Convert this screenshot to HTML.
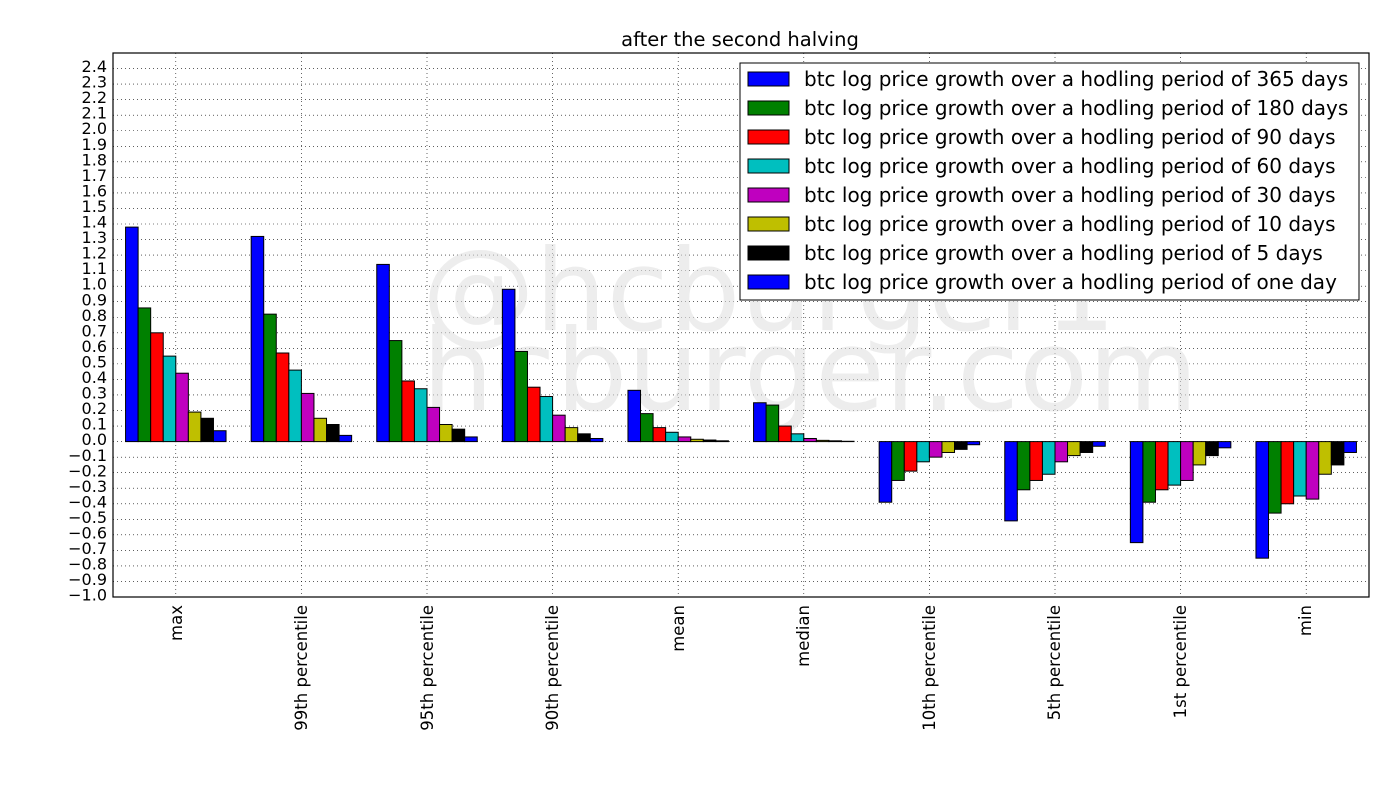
<!DOCTYPE html>
<html><head><meta charset="utf-8"><style>
html,body{margin:0;padding:0;background:#fff}
svg{display:block}
text{font-family:"DejaVu Sans","Liberation Sans",sans-serif;fill:#000}
</style></head><body>
<svg id="s" width="1400" height="800" xmlns="http://www.w3.org/2000/svg">
<rect width="1400" height="800" fill="#fff"/>
<g id="grid"></g>
<g opacity="0.55" font-size="113" style="font-family:'DejaVu Sans',sans-serif">
<text x="422" y="330" style="fill:#e0e0e0">@hcburger1</text>
<text x="422" y="410" style="fill:#e0e0e0">hcburger.com</text>
</g>
<g id="bars"></g>
<rect x="113" y="53" width="1256" height="544" fill="none" stroke="#000" stroke-width="1.2"/>
<text x="740" y="46" font-size="19.5" text-anchor="middle">after the second halving</text>
<g font-size="16" text-anchor="end">
<text x="107" y="72">2.4</text><text x="107" y="87.6">2.3</text><text x="107" y="103.1">2.2</text><text x="107" y="118.7">2.1</text><text x="107" y="134.2">2.0</text><text x="107" y="149.8">1.9</text><text x="107" y="165.3">1.8</text><text x="107" y="180.9">1.7</text><text x="107" y="196.4">1.6</text><text x="107" y="212">1.5</text><text x="107" y="227.5">1.4</text><text x="107" y="243.1">1.3</text><text x="107" y="258.6">1.2</text><text x="107" y="274.2">1.1</text><text x="107" y="289.7">1.0</text><text x="107" y="305.3">0.9</text><text x="107" y="320.8">0.8</text><text x="107" y="336.4">0.7</text><text x="107" y="351.9">0.6</text><text x="107" y="367.5">0.5</text><text x="107" y="383">0.4</text><text x="107" y="398.6">0.3</text><text x="107" y="414.1">0.2</text><text x="107" y="429.7">0.1</text><text x="107" y="445.2">0.0</text><text x="107" y="460.8">−0.1</text><text x="107" y="476.3">−0.2</text><text x="107" y="491.9">−0.3</text><text x="107" y="507.4">−0.4</text><text x="107" y="523">−0.5</text><text x="107" y="538.5">−0.6</text><text x="107" y="554.1">−0.7</text><text x="107" y="569.6">−0.8</text><text x="107" y="585.2">−0.9</text><text x="107" y="600.7">−1.0</text>
</g>
<g font-size="16.5" text-anchor="end">
<text transform="translate(182,605) rotate(-90)">max</text>
<text transform="translate(307,605) rotate(-90)">99th percentile</text>
<text transform="translate(433,605) rotate(-90)">95th percentile</text>
<text transform="translate(558,605) rotate(-90)">90th percentile</text>
<text transform="translate(684,605) rotate(-90)">mean</text>
<text transform="translate(809,605) rotate(-90)">median</text>
<text transform="translate(935,605) rotate(-90)">10th percentile</text>
<text transform="translate(1060,605) rotate(-90)">5th percentile</text>
<text transform="translate(1186,605) rotate(-90)">1st percentile</text>
<text transform="translate(1311,605) rotate(-90)">min</text>
</g>
<rect x="740" y="63" width="619" height="237" fill="#fff" stroke="#000" stroke-width="1"/>
<g id="leg"></g>
<g font-size="20">
<text x="804" y="86">btc log price growth over a hodling period of 365 days</text>
<text x="804" y="115">btc log price growth over a hodling period of 180 days</text>
<text x="804" y="144">btc log price growth over a hodling period of 90 days</text>
<text x="804" y="173">btc log price growth over a hodling period of 60 days</text>
<text x="804" y="202">btc log price growth over a hodling period of 30 days</text>
<text x="804" y="231">btc log price growth over a hodling period of 10 days</text>
<text x="804" y="260">btc log price growth over a hodling period of 5 days</text>
<text x="804" y="289">btc log price growth over a hodling period of one day</text>
</g>
</svg>
<script>
var NS="http://www.w3.org/2000/svg";
function el(p,t,a){var e=document.createElementNS(NS,t);for(var k in a)e.setAttribute(k,a[k]);document.getElementById(p).appendChild(e);}
var Y=function(v){return 441.6-v*155.43;};
for(var i=-10;i<=24;i++){var y=Y(i/10);el("grid","line",{x1:113,x2:1369,y1:y,y2:y,stroke:"#000","stroke-width":0.6,"stroke-dasharray":"1,3"});}
var W=125.6;
for(var c=0;c<10;c++){var x=113+W*(c+0.5);el("grid","line",{x1:x,x2:x,y1:53,y2:597,stroke:"#000","stroke-width":0.6,"stroke-dasharray":"1,3"});}
var cols=["#0000ff","#008000","#ff0000","#00bfbf","#bf00bf","#bfbf00","#000000","#0000ff"];
var d=[[1.38,0.86,0.70,0.55,0.44,0.19,0.15,0.07],
[1.32,0.82,0.57,0.46,0.31,0.15,0.11,0.04],
[1.14,0.65,0.39,0.34,0.22,0.11,0.08,0.03],
[0.98,0.58,0.35,0.29,0.17,0.09,0.05,0.02],
[0.33,0.18,0.09,0.06,0.03,0.015,0.01,0.005],
[0.25,0.235,0.10,0.05,0.02,0.008,0.005,0.002],
[-0.39,-0.25,-0.19,-0.13,-0.10,-0.07,-0.05,-0.02],
[-0.51,-0.31,-0.25,-0.21,-0.13,-0.09,-0.07,-0.03],
[-0.65,-0.39,-0.31,-0.28,-0.25,-0.15,-0.09,-0.04],
[-0.75,-0.46,-0.40,-0.35,-0.37,-0.21,-0.15,-0.07]];
for(var c=0;c<10;c++)for(var j=0;j<8;j++){var v=d[c][j];var x=113+W*(c+0.1+0.1*j);var y0=Y(0),y1=Y(v);
el("bars","rect",{x:x,y:Math.min(y0,y1),width:W*0.1,height:Math.abs(y1-y0),fill:cols[j],stroke:"#000","stroke-width":1});}
for(var j=0;j<8;j++){el("leg","rect",{x:748,y:72+29*j,width:41,height:14,fill:cols[j],stroke:"#000","stroke-width":1});}
</script>
</body></html>
